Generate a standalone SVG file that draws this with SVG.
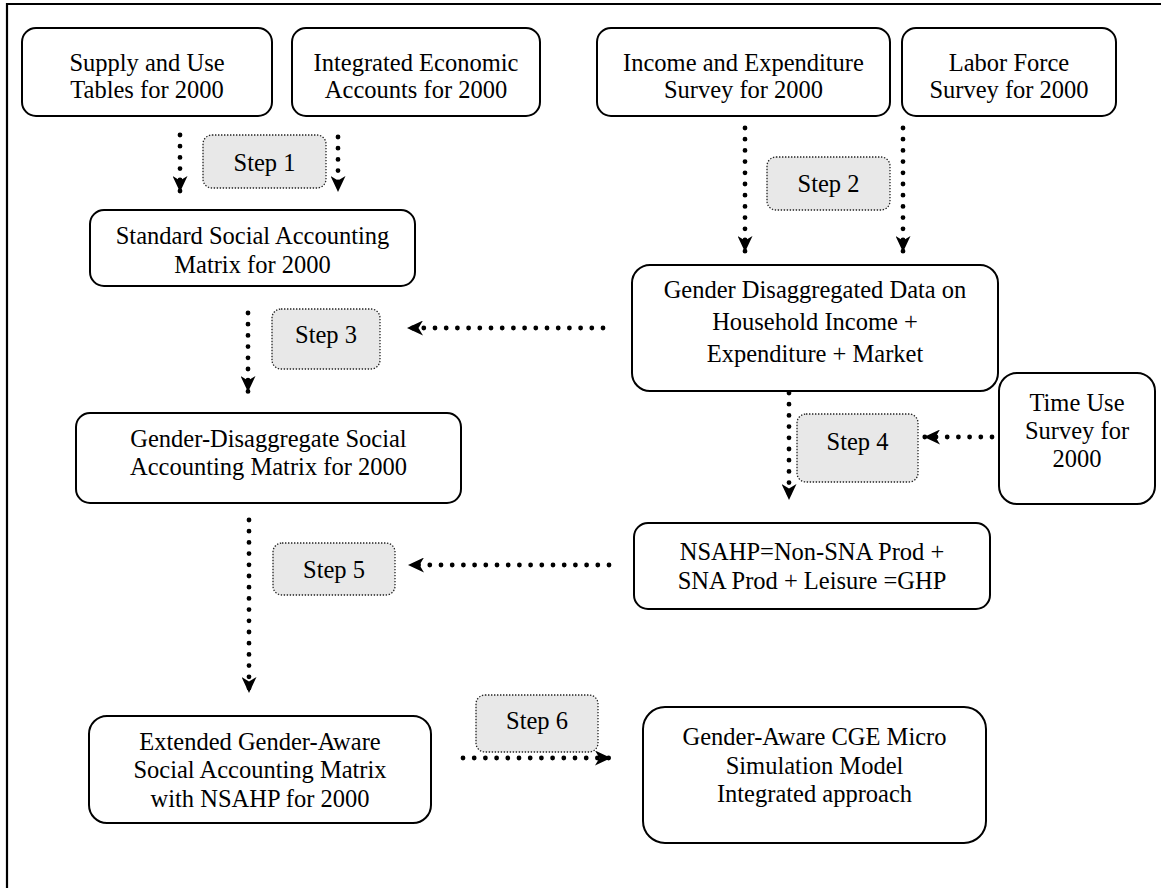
<svg xmlns="http://www.w3.org/2000/svg" width="1161" height="888" viewBox="0 0 1161 888">
<defs>
<style>
.box{fill:#fff;stroke:#000;stroke-width:2}
.step{fill:#e8e8e8;stroke:#222;stroke-width:1.3;stroke-dasharray:1.4 1.6}
.t{font-family:"Liberation Serif","Times New Roman",serif;font-size:24.5px;fill:#000;text-anchor:middle}
.c{fill:none;stroke:#000;stroke-width:4.8;stroke-linecap:round;stroke-dasharray:0 11.2}
</style>
<marker id="ah" viewBox="0 0 16 15" refX="16" refY="7.5" markerWidth="16" markerHeight="15" markerUnits="userSpaceOnUse" orient="auto">
<path d="M0,0 L16,7.5 L0,15 L4.5,7.5 Z" fill="#000"/>
</marker>
</defs>
<rect width="1161" height="888" fill="#fff"/>
<path d="M7,890 V4 H1163" fill="none" stroke="#000" stroke-width="2.2"/>

<g id="connectors">
<path class="c" d="M180,135 V192" marker-end="url(#ah)"/>
<path class="c" d="M338,137 V192" marker-end="url(#ah)"/>
<path class="c" d="M745,128 V252" marker-end="url(#ah)"/>
<path class="c" d="M903,128 V252" marker-end="url(#ah)"/>
<path class="c" d="M603,328 H407" marker-end="url(#ah)"/>
<path class="c" d="M248,313 V392" marker-end="url(#ah)"/>
<path class="c" d="M789,393 V500" marker-end="url(#ah)"/>
<path class="c" d="M992,437 H924" marker-end="url(#ah)"/>
<path class="c" d="M609,565 H408" marker-end="url(#ah)"/>
<path class="c" d="M249,520 V693" marker-end="url(#ah)"/>
<path class="c" d="M463,758 H611" marker-end="url(#ah)"/>
</g>

<g id="supply-use">
<rect class="box" x="22" y="28" width="250" height="88" rx="14"/>
<text class="t" x="147" y="71">Supply and Use</text>
<text class="t" x="147" y="98">Tables for 2000</text>
</g>
<g id="integrated-accounts">
<rect class="box" x="292" y="28" width="248" height="88" rx="14"/>
<text class="t" x="416" y="71">Integrated Economic</text>
<text class="t" x="416" y="98">Accounts for 2000</text>
</g>
<g id="income-expenditure">
<rect class="box" x="597" y="28" width="293" height="88" rx="14"/>
<text class="t" x="743.5" y="71">Income and Expenditure</text>
<text class="t" x="743.5" y="98">Survey for 2000</text>
</g>
<g id="labor-force">
<rect class="box" x="902" y="28" width="214" height="88" rx="14"/>
<text class="t" x="1009" y="71">Labor Force</text>
<text class="t" x="1009" y="98">Survey for 2000</text>
</g>

<g id="step1">
<rect class="step" x="203" y="135" width="123" height="53" rx="9"/>
<text class="t" x="264.5" y="171">Step 1</text>
</g>
<g id="step2">
<rect class="step" x="767" y="157" width="123" height="53" rx="9"/>
<text class="t" x="828.5" y="192">Step 2</text>
</g>

<g id="standard-sam">
<rect class="box" x="90" y="210" width="325" height="76" rx="14"/>
<text class="t" x="252.5" y="244">Standard Social Accounting</text>
<text class="t" x="252.5" y="273">Matrix for 2000</text>
</g>

<g id="gender-data">
<rect class="box" x="632" y="265" width="366" height="126" rx="18"/>
<text class="t" x="815" y="298">Gender Disaggregated Data on</text>
<text class="t" x="815" y="330">Household Income +</text>
<text class="t" x="815" y="362">Expenditure + Market</text>
</g>

<g id="step3">
<rect class="step" x="272" y="309" width="108" height="60" rx="9"/>
<text class="t" x="326" y="343">Step 3</text>
</g>

<g id="gender-sam">
<rect class="box" x="76" y="413" width="385" height="90" rx="14"/>
<text class="t" x="268.5" y="447">Gender-Disaggregate Social</text>
<text class="t" x="268.5" y="475">Accounting Matrix for 2000</text>
</g>

<g id="step4">
<rect class="step" x="797" y="414" width="121" height="68" rx="9"/>
<text class="t" x="857.5" y="450">Step 4</text>
</g>

<g id="time-use">
<rect class="box" x="999" y="373" width="156" height="131" rx="18"/>
<text class="t" x="1077" y="411">Time Use</text>
<text class="t" x="1077" y="439">Survey for</text>
<text class="t" x="1077" y="467">2000</text>
</g>

<g id="nsahp">
<rect class="box" x="634" y="523" width="356" height="86" rx="14"/>
<text class="t" x="812" y="560">NSAHP=Non-SNA Prod +</text>
<text class="t" x="812" y="589">SNA Prod + Leisure =GHP</text>
</g>

<g id="step5">
<rect class="step" x="273" y="543" width="122" height="52" rx="9"/>
<text class="t" x="334" y="578">Step 5</text>
</g>

<g id="step6">
<rect class="step" x="476" y="695" width="122" height="57" rx="9"/>
<text class="t" x="537" y="729">Step 6</text>
</g>

<g id="extended-sam">
<rect class="box" x="89" y="716" width="342" height="107" rx="18"/>
<text class="t" x="260" y="750">Extended Gender-Aware</text>
<text class="t" x="260" y="778">Social Accounting Matrix</text>
<text class="t" x="260" y="807">with NSAHP for 2000</text>
</g>

<g id="cge-model">
<rect class="box" x="643" y="707" width="343" height="136" rx="22"/>
<text class="t" x="814.5" y="745">Gender-Aware CGE Micro</text>
<text class="t" x="814.5" y="774">Simulation Model</text>
<text class="t" x="814.5" y="802">Integrated approach</text>
</g>
</svg>
